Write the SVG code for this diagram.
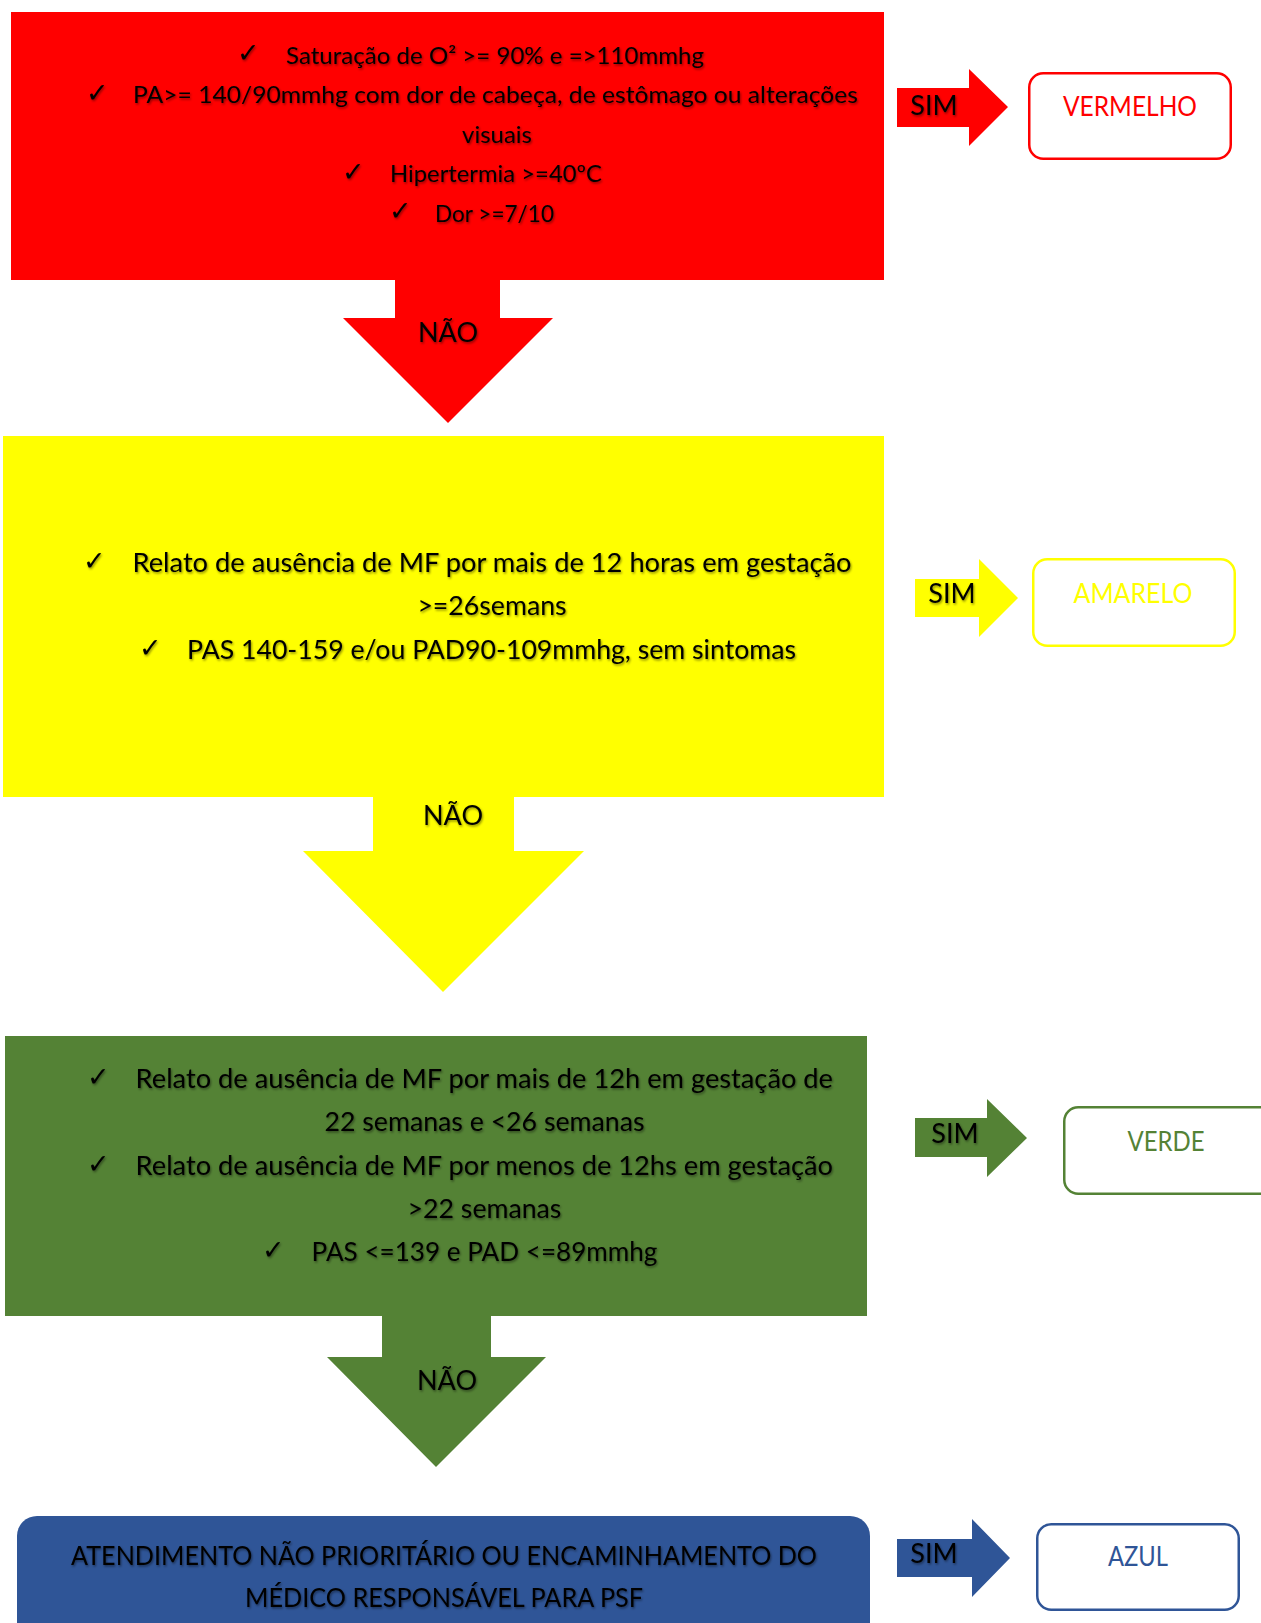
<svg xmlns="http://www.w3.org/2000/svg" width="1261" height="1623" viewBox="0 0 1261 1623">
  <defs>
    <filter id="soft" x="-10%" y="-30%" width="120%" height="160%">
      <feDropShadow dx="1" dy="1.5" stdDeviation="1.2" flood-color="#000" flood-opacity="0.45"/>
    </filter>
  </defs>
  <style>
    .t { font-family: Lato, "Liberation Sans", sans-serif; fill: #000; filter: url(#soft); }
    .sm { font-size: 24px; }
    .md { font-size: 26.7px; }
    .lbl { font-family: Lato, "Liberation Sans", sans-serif; font-size: 27px; fill: #000; filter: url(#soft); text-anchor: middle; }
    .ck { font-family: "DejaVu Sans", sans-serif; font-size: 27px; fill: #000; filter: url(#soft); }
    .c { text-anchor: middle; }
    .out { fill: #fff; stroke-width: 2.5; }
    .outt { font-family: Lato, "Liberation Sans", sans-serif; font-size: 27px; text-anchor: middle; }
    .red { fill: #ff0000; }
    .yel { fill: #ffff00; }
    .grn { fill: #548235; }
    .blu { fill: #2f5597; }
  </style>

  <!-- block arrows with their SIM / NÃO labels -->
  <g id="connectors">
    <g id="red-nao">
      <polygon class="red" points="395,270 500,270 500,318 553,318 448,423 343,318 395,318"/>
      <text class="lbl" x="448" y="342">NÃO</text>
    </g>
    <g id="yellow-nao">
      <polygon class="yel" points="373,790 514,790 514,851 584,851 443,992 303,851 373,851"/>
      <text class="lbl" x="453" y="825">NÃO</text>
    </g>
    <g id="green-nao">
      <polygon class="grn" points="382,1310 491,1310 491,1357 546,1357 436,1467 327,1357 382,1357"/>
      <text class="lbl" x="447" y="1390">NÃO</text>
    </g>
    <g id="red-sim">
      <polygon class="red" points="897,88 969,88 969,69 1008,107 969,146 969,127 897,127"/>
      <text class="lbl" x="934" y="115">SIM</text>
    </g>
    <g id="yellow-sim">
      <polygon class="yel" points="915,579 979,579 979,559 1018,598 979,637 979,617 915,617"/>
      <text class="lbl" x="952" y="603">SIM</text>
    </g>
    <g id="green-sim">
      <polygon class="grn" points="915,1118 987,1118 987,1099 1027,1138 987,1177 987,1157 915,1157"/>
      <text class="lbl" x="955" y="1143">SIM</text>
    </g>
    <g id="blue-sim">
      <polygon class="blu" points="897,1539 972,1539 972,1519 1010,1558 972,1597 972,1577 897,1577"/>
      <text class="lbl" x="934" y="1563">SIM</text>
    </g>
  </g>

  <!-- red criteria -->
  <g id="node-red">
    <rect class="red" x="11" y="12" width="873" height="268"/>
    <text class="ck" x="237" y="62">✓</text>
    <text class="t sm" x="286" y="63.5" textLength="418" lengthAdjust="spacingAndGlyphs">Saturação de O² &gt;= 90% e =&gt;110mmhg</text>
    <text class="ck" x="86" y="101.5">✓</text>
    <text class="t sm" x="133" y="103" textLength="725" lengthAdjust="spacingAndGlyphs">PA&gt;= 140/90mmhg com dor de cabeça, de estômago ou alterações</text>
    <text class="t sm c" x="497" y="142.5">visuais</text>
    <text class="ck" x="342" y="180.5">✓</text>
    <text class="t sm" x="390" y="182" textLength="212" lengthAdjust="spacingAndGlyphs">Hipertermia &gt;=40ºC</text>
    <text class="ck" x="389" y="220">✓</text>
    <text class="t sm" x="435" y="221.5" textLength="119" lengthAdjust="spacingAndGlyphs">Dor &gt;=7/10</text>
  </g>

  <!-- yellow criteria -->
  <g id="node-yellow">
    <rect class="yel" x="3" y="436" width="881" height="361"/>
    <text class="ck" x="83" y="569.5">✓</text>
    <text class="t md" x="132.5" y="571.5" textLength="719" lengthAdjust="spacingAndGlyphs">Relato de ausência de MF por mais de 12 horas em gestação</text>
    <text class="t md c" x="492" y="615">&gt;=26semans</text>
    <text class="ck" x="139" y="656.5">✓</text>
    <text class="t md" x="187" y="658.5" textLength="609" lengthAdjust="spacingAndGlyphs">PAS 140-159 e/ou PAD90-109mmhg, sem sintomas</text>
  </g>

  <!-- green criteria -->
  <g id="node-green">
    <rect class="grn" x="5" y="1036" width="862" height="280"/>
    <text class="ck" x="87" y="1085.5">✓</text>
    <text class="t md" x="135.6" y="1088" textLength="697.4" lengthAdjust="spacingAndGlyphs">Relato de ausência de MF por mais de 12h em gestação de</text>
    <text class="t md c" x="484.5" y="1130.5">22 semanas e &lt;26 semanas</text>
    <text class="ck" x="87" y="1172.5">✓</text>
    <text class="t md" x="135.6" y="1175" textLength="697.4" lengthAdjust="spacingAndGlyphs">Relato de ausência de MF por menos de 12hs em gestação</text>
    <text class="t md c" x="484.5" y="1217.5">&gt;22 semanas</text>
    <text class="ck" x="262" y="1258.5">✓</text>
    <text class="t md" x="311.6" y="1261" textLength="345.8" lengthAdjust="spacingAndGlyphs">PAS &lt;=139 e PAD &lt;=89mmhg</text>
  </g>

  <!-- blue outcome -->
  <g id="node-blue">
    <rect class="blu" x="17" y="1516" width="853" height="130" rx="20"/>
    <text class="t md c" x="444" y="1564.5" textLength="746" lengthAdjust="spacingAndGlyphs">ATENDIMENTO NÃO PRIORITÁRIO OU ENCAMINHAMENTO DO</text>
    <text class="t md c" x="444" y="1607" textLength="398" lengthAdjust="spacingAndGlyphs">MÉDICO RESPONSÁVEL PARA PSF</text>
  </g>

  <!-- priority class boxes -->
  <g id="out-vermelho">
    <rect class="out" x="1029.25" y="73.25" width="201.5" height="85.5" rx="14" stroke="#ff0000"/>
    <text class="outt" x="1130" y="116" fill="#ff0000" textLength="134" lengthAdjust="spacingAndGlyphs">VERMELHO</text>
  </g>
  <g id="out-amarelo">
    <rect class="out" x="1033.25" y="559.25" width="201.5" height="86.5" rx="14" stroke="#ffff00"/>
    <text class="outt" x="1133" y="602.5" fill="#ffff00" textLength="119" lengthAdjust="spacingAndGlyphs">AMARELO</text>
  </g>
  <g id="out-verde">
    <rect class="out" x="1064.25" y="1107.25" width="210" height="86.5" rx="14" stroke="#548235"/>
    <text class="outt" x="1166" y="1151" fill="#548235" textLength="77" lengthAdjust="spacingAndGlyphs">VERDE</text>
  </g>
  <g id="out-azul">
    <rect class="out" x="1037.25" y="1524.25" width="201.5" height="85.5" rx="14" stroke="#2f5597"/>
    <text class="outt" x="1138" y="1566" fill="#2f5597" textLength="60" lengthAdjust="spacingAndGlyphs">AZUL</text>
  </g>
</svg>
